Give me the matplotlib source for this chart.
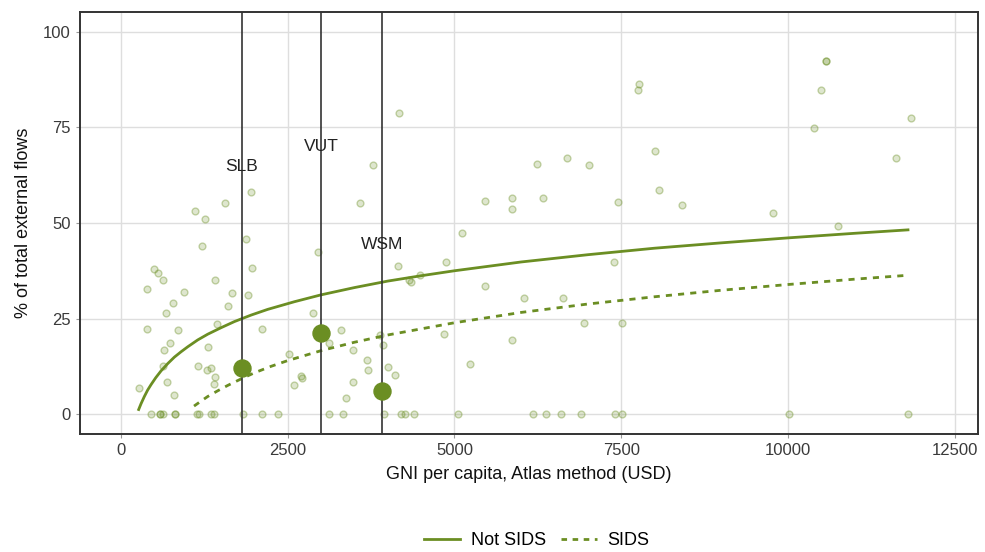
import matplotlib.pyplot as plt
from matplotlib.lines import Line2D

plt.rcParams['font.family'] = ['Liberation Sans', 'DejaVu Sans']

GREEN = "#6b8e23"

# country observations: GNI per capita vs share of external flows
gni = [4174, 3774, 1945, 1560, 1110, 1260, 3579, 1880, 1220, 2960, 4154, 1965,
       495, 560, 625, 1410, 390, 945, 1670, 1900, 775, 1600, 670, 2880, 1435,
       390, 860, 2115, 3304, 730, 3115, 645, 1305, 3475, 2520, 625, 1155, 1285,
       1345, 3685, 3710, 1410, 2720, 2700, 4004, 4110, 685, 1390, 2600, 3475,
       265, 795, 3370, 3880, 3925, 4320,
       7768, 7749, 8008, 6239, 6689, 7023, 8073, 5454, 5859, 5859, 6324, 7454,
       8408, 5114, 4879, 7389, 4349, 4479, 5454, 6049, 6624, 4839, 6944, 7518,
       5859, 5239,
       10578, 10578, 10498, 10388, 11838, 11623, 9773, 10748,
       450, 585, 590, 625, 805, 810, 1135, 1175, 1345, 1390, 1835, 2115, 2350,
       3115, 3325, 3945, 4195, 4260, 4394, 5050, 6174, 6369, 6603, 6899, 7409,
       7518, 10023, 11793]
share = [78.9, 65.1, 58.0, 55.1, 53.2, 51.0, 55.1, 45.7, 43.9, 42.4, 38.7, 38.3,
         38.0, 36.8, 35.0, 35.0, 32.8, 32.0, 31.7, 31.2, 29.1, 28.4, 26.4, 26.4, 23.6,
         22.3, 22.0, 22.3, 22.0, 18.7, 18.7, 16.8, 17.5, 16.8, 15.7, 12.7, 12.7, 11.6,
         12.0, 14.2, 11.6, 9.8, 9.4, 10.0, 12.4, 10.1, 8.3, 7.9, 7.6, 8.3,
         6.8, 5.0, 4.2, 20.7, 18.0, 35.1,
         86.3, 84.8, 68.8, 65.5, 67.0, 65.1, 58.5, 55.8, 56.5, 53.6, 56.5, 55.5,
         54.7, 47.3, 39.9, 39.9, 34.6, 36.5, 33.5, 30.5, 30.5, 20.9, 23.8, 23.8,
         19.4, 13.1,
         92.3, 92.3, 84.8, 74.8, 77.4, 67.0, 52.5, 49.1,
         0, 0, 0, 0, 0, 0, 0, 0, 0, 0, 0, 0, 0,
         0, 0, 0, 0, 0, 0, 0, 0, 0, 0, 0, 0,
         0, 0, 0]

# highlighted countries
hl_codes = ["SLB", "VUT", "WSM"]
hl_gni = [1810, 3000, 3914]
hl_share = [12.1, 21.1, 6.1]
hl_label_y = [64.7, 70.0, 44.5]

# fitted trend lines
fit_x = [265, 300, 350, 400, 450, 520, 600, 700, 800, 900, 1000, 1150, 1300,
         1500, 1700, 1950, 2200, 2600, 3000, 3500, 4000, 4500, 5000, 6000, 7000,
         8000, 9000, 10000, 11000, 11800]
fit_not_sids = [1.2, 2.7, 4.6, 6.3, 7.7, 9.5, 11.3, 13.2, 14.9, 16.3, 17.6,
                19.4, 20.9, 22.6, 24.2, 25.9, 27.4, 29.4, 31.2, 33.1, 34.8,
                36.2, 37.5, 39.8, 41.7, 43.4, 44.8, 46.1, 47.3, 48.2]
fit_sids_x = [1095, 1200, 1300, 1450, 1600, 1800, 2000, 2250, 2500, 3000, 3500,
              4000, 5000, 6000, 7000, 8000, 9000, 10000, 11000, 11783]
fit_sids = [2.1, 3.4, 4.6, 6.1, 7.5, 9.2, 10.8, 12.5, 14.0, 16.6, 18.8,
            20.7, 23.9, 26.6, 28.8, 30.7, 32.4, 33.9, 35.3, 36.3]

fig = plt.figure(figsize=(9.85, 5.52), dpi=100)
ax = fig.add_axes([0.0812, 0.2138, 0.9117, 0.7645])

ax.scatter(gni, share, s=24, facecolor=(0.42, 0.56, 0.14, 0.22),
           edgecolor=(0.42, 0.56, 0.14, 0.38), linewidth=1.0, zorder=2)

ax.plot(fit_x, fit_not_sids, color=GREEN, lw=2, zorder=3)
ax.plot(fit_sids_x, fit_sids, color=GREEN, lw=2, ls=(0, (2.2, 2.2)), zorder=3)

for code, x, y, ly in zip(hl_codes, hl_gni, hl_share, hl_label_y):
    ax.axvline(x, color="#333333", lw=1.2, zorder=4)
    ax.scatter([x], [y], s=150, color=GREEN, zorder=5)
    ax.text(x, ly, code, ha="center", va="center", fontsize=12.5,
            color="#222222", zorder=6)

ax.set_xlim(-615, 12850)
ax.set_ylim(-5.2, 105.2)
ax.set_xticks([0, 2500, 5000, 7500, 10000, 12500])
ax.set_yticks([0, 25, 50, 75, 100])
ax.grid(True, color="#dedede", lw=1.0, zorder=0)
ax.set_axisbelow(True)
for s in ax.spines.values():
    s.set_color("#333333")
    s.set_linewidth(1.4)
ax.tick_params(colors="#3a3a3a", labelsize=12, length=3, width=0.8,
               color="#999999")

ax.set_xlabel("GNI per capita, Atlas method (USD)", fontsize=13, color="#111111",
              labelpad=6)
ax.set_ylabel("% of total external flows", fontsize=13, color="#111111",
              labelpad=8)

handles = [Line2D([], [], color=GREEN, lw=2),
           Line2D([], [], color=GREEN, lw=2, ls=(0, (2, 2)))]
fig.legend(handles, ["Not SIDS", "SIDS"], loc="center", ncol=2,
           bbox_to_anchor=(0.545, 0.02), frameon=False, fontsize=13,
           handlelength=2.0, columnspacing=0.8, handletextpad=0.6)

fig.savefig("out.png", dpi=100)
